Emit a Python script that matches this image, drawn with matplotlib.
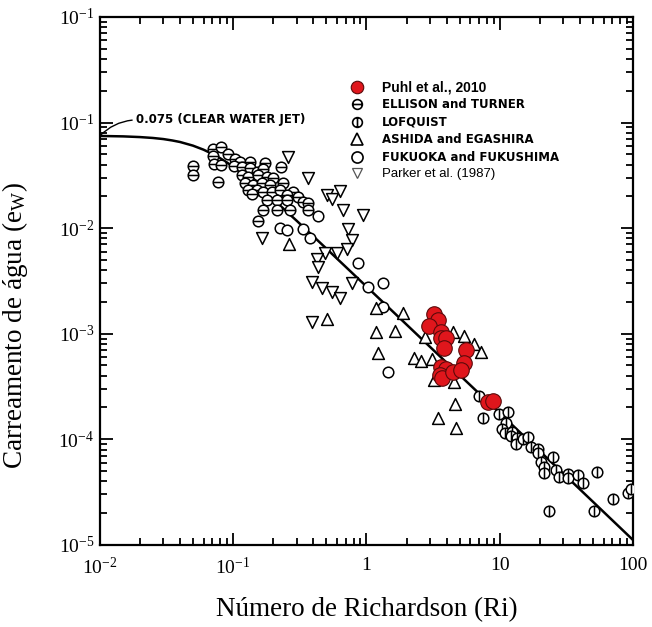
# Ri x ew chart (Parker curve with lab data sets)
import matplotlib
matplotlib.use('Agg')
import matplotlib.pyplot as plt
from matplotlib.path import Path
from matplotlib.lines import Line2D

plt.rcParams['font.family'] = ['Liberation Serif', 'DejaVu Serif']
plt.rcParams['mathtext.fontset'] = 'custom'
plt.rcParams['mathtext.rm'] = 'Liberation Serif'
plt.rcParams['mathtext.it'] = 'Liberation Serif:italic'

# curve
curve_ri = [0.01, 0.015, 0.02, 0.025, 0.03, 0.035, 0.04, 0.05, 0.06, 0.07, 0.08, 0.09, 0.1,
            0.12, 0.15, 0.2, 0.25, 0.3, 0.4, 0.5, 0.7, 1, 2, 5, 10, 20, 50, 100]
curve_ew = [0.0746, 0.0739, 0.0728, 0.0714, 0.0697, 0.0676, 0.0654, 0.0604, 0.0553, 0.0504,
            0.0459, 0.0418, 0.0382, 0.0322, 0.0256, 0.0187, 0.01449, 0.01173, 0.00835, 0.00641,
            0.00429, 0.0028, 0.00122, 4.06e-4, 1.77e-4, 7.7e-5, 2.56e-5, 1.11e-5]

ellison_ri = [0.050, 0.050, 0.071, 0.081, 0.071, 0.072, 0.081, 0.077,
              0.092, 0.104, 0.113, 0.134, 0.174, 0.230,
              0.102, 0.117, 0.134, 0.151, 0.168,
              0.117, 0.130, 0.154, 0.180, 0.200, 0.238,
              0.123, 0.141, 0.165, 0.190,
              0.130, 0.151, 0.168, 0.196, 0.226, 0.283, 0.255,
              0.139, 0.180, 0.214, 0.255, 0.308, 0.336, 0.366,
              0.168, 0.214, 0.268, 0.366, 0.154]
ellison_ew = [0.0391, 0.0319, 0.0562, 0.0592, 0.0483, 0.0405, 0.0399, 0.0274,
              0.0505, 0.0452, 0.0424, 0.0424, 0.0414, 0.0380,
              0.0388, 0.0380, 0.0372, 0.0340, 0.0364,
              0.0319, 0.0305, 0.0319, 0.0305, 0.0299, 0.0268,
              0.0268, 0.0257, 0.0268, 0.0257,
              0.0230, 0.0230, 0.0220, 0.0220, 0.0230, 0.0220, 0.0206,
              0.0211, 0.0185, 0.0185, 0.0185, 0.0197, 0.0177, 0.0173,
              0.0149, 0.0149, 0.0149, 0.0149, 0.0117]

lofquist_ri = [6.95, 7.45, 9.82, 11.5, 11.1, 10.35, 10.9, 12.3, 12.1, 13.4, 13.2, 14.9, 16.2,
               17.1, 19.3, 19.3, 20.3, 21.4, 21.4, 25.0, 26.4, 27.8, 32.5, 32.5, 38.5, 42.1,
               53.6, 23.4, 50.9, 70.8, 91.7, 97.0]
lofquist_ew = [2.58e-4, 1.60e-4, 1.74e-4, 1.82e-4, 1.43e-4, 1.25e-4, 1.15e-4, 1.18e-4, 1.08e-4,
               1.03e-4, 9.04e-5, 1.01e-4, 1.05e-4, 8.47e-5, 8.11e-5, 7.43e-5, 6.11e-5, 5.48e-5,
               4.81e-5, 6.81e-5, 5.13e-5, 4.40e-5, 4.70e-5, 4.31e-5, 4.60e-5, 3.86e-5, 4.91e-5,
               2.10e-5, 2.10e-5, 2.73e-5, 3.11e-5, 3.39e-5]

ashida_ri = [0.264, 0.509, 1.19, 1.19, 1.65, 1.23, 1.87, 2.73, 2.26, 2.55, 3.13, 4.44, 5.36,
             6.38, 7.20, 3.19, 4.51, 4.59, 3.42, 4.67]
ashida_ew = [7.08e-3, 1.38e-3, 1.76e-3, 1.04e-3, 1.06e-3, 6.58e-4, 1.57e-3, 9.33e-4, 5.9e-4,
             5.52e-4, 5.77e-4, 1.04e-3, 9.53e-4, 8.0e-4, 6.73e-4, 3.66e-4, 3.50e-4, 2.16e-4,
             1.60e-4, 1.28e-4]

fukuoka_ri = [0.226, 0.255, 0.336, 0.435, 0.379, 0.871, 1.02, 1.34, 1.34, 1.44]
fukuoka_ew = [0.0100, 0.0095, 0.0098, 0.0131, 0.0081, 4.68e-3, 2.77e-3, 3.03e-3, 1.79e-3, 4.35e-4]

parker_ri = [0.259, 0.366, 0.509, 0.555, 0.638, 0.672, 0.949, 0.165, 0.733, 0.785, 0.720,
             0.605, 0.492, 0.428, 0.435, 0.393, 0.467, 0.555, 0.638, 0.785, 0.393]
parker_ew = [0.0472, 0.0299, 0.0206, 0.0189, 0.0225, 0.0149, 0.0133, 8.07e-3, 9.8e-3, 7.73e-3,
             6.35e-3, 5.82e-3, 5.82e-3, 5.11e-3, 4.29e-3, 3.10e-3, 2.72e-3, 2.49e-3, 2.18e-3,
             3.03e-3, 1.29e-3]

puhl_ri = [3.19, 3.42, 2.93, 3.60, 3.60, 3.93, 3.79, 5.55, 5.36, 3.60, 3.93, 3.55, 3.66,
           4.44, 5.09, 8.13, 8.86]
puhl_ew = [1.54e-3, 1.35e-3, 1.19e-3, 1.04e-3, 9.12e-4, 9.12e-4, 7.34e-4, 7.03e-4, 5.29e-4,
           4.85e-4, 4.64e-4, 4.07e-4, 3.81e-4, 4.35e-4, 4.54e-4, 2.26e-4, 2.31e-4]

x_ticks = [0.01, 0.1, 1, 10, 100]
x_labels = [r'$\mathregular{10^{-2}}$', r'$\mathregular{10^{-1}}$', '1', '10', '100']
y_ticks = [1e-5, 1e-4, 1e-3, 1e-2, 1e-1, 1]
y_labels = [r'$\mathregular{10^{-5}}$', r'$\mathregular{10^{-4}}$', r'$\mathregular{10^{-3}}$',
            r'$\mathregular{10^{-2}}$', r'$\mathregular{10^{-1}}$', r'$\mathregular{10^{-1}}$']

# circle with a bar (theta / phi symbols)
seg_h = Path([[-1, 0], [1, 0]], [Path.MOVETO, Path.LINETO])
seg_v = Path([[0, -1], [0, 1]], [Path.MOVETO, Path.LINETO])
theta = Path.make_compound_path(Path.unit_circle(), seg_h)
phi = Path.make_compound_path(Path.unit_circle(), seg_v)

fig = plt.figure(figsize=(6.52, 6.27), dpi=100)
ax = fig.add_axes([0.153, 0.131, 0.818, 0.842])

ax.plot(curve_ri, curve_ew, 'k-', lw=1.8, zorder=2)

ms = 58
ax.scatter(ellison_ri, ellison_ew, s=ms, marker=theta, facecolors='white', edgecolors='k', linewidths=1.1, zorder=3)
ax.scatter(lofquist_ri, lofquist_ew, s=ms, marker=phi, facecolors='white', edgecolors='k', linewidths=1.1, zorder=3)
ax.scatter(fukuoka_ri, fukuoka_ew, s=ms, marker='o', facecolors='white', edgecolors='k', linewidths=1.1, zorder=3)
ax.scatter(ashida_ri, ashida_ew, s=72, marker='^', facecolors='white', edgecolors='k', linewidths=1.1, zorder=3)
ax.scatter(parker_ri, parker_ew, s=72, marker='v', facecolors='white', edgecolors='k', linewidths=1.1, zorder=3)
ax.scatter(puhl_ri, puhl_ew, s=125, marker='o', facecolors='#e0161c', edgecolors='#5a0a0a', linewidths=0.8, zorder=4)

ax.set_xscale('log')
ax.set_yscale('log')
ax.set_xlim(0.01, 100)
ax.set_ylim(1e-5, 1)
ax.set_xticks(x_ticks)
ax.set_xticklabels(x_labels)
ax.set_yticks(y_ticks)
ax.set_yticklabels(y_labels)
ax.tick_params(which='both', direction='in', top=True, right=True, width=1.3, labelsize=14)
ax.tick_params(which='major', length=9)
ax.tick_params(which='minor', length=5)
ax.tick_params(axis='x', pad=9)
ax.tick_params(axis='y', pad=4)
for sp in ax.spines.values():
    sp.set_linewidth(1.6)

ax.set_xlabel('Número de Richardson (Ri)', fontsize=19.5, labelpad=13)
ax.set_ylabel(r'Carreamento de água (e$_\mathregular{W}$)', fontsize=19.5)
ax.yaxis.set_label_coords(-0.131, 0.415)

ax.annotate('0.075 (CLEAR WATER JET)', xy=(0.01, 0.0746), xytext=(0.0188, 0.106),
            fontsize=8.5, fontweight='bold', family='DejaVu Sans', va='center', ha='left',
            arrowprops=dict(arrowstyle='-', lw=1.0, color='k', shrinkA=1, shrinkB=0,
                            connectionstyle='arc3,rad=0.2', relpos=(0, 0.5)))

handles = [
    Line2D([], [], ls='none', marker='o', ms=9, mfc='#e0161c', mec='#5a0a0a', mew=0.8),
    Line2D([], [], ls='none', marker=theta, ms=7, mfc='none', mec='k', mew=1.2),
    Line2D([], [], ls='none', marker=phi, ms=7, mfc='none', mec='k', mew=1.2),
    Line2D([], [], ls='none', marker='^', ms=8, mfc='none', mec='k', mew=1.2),
    Line2D([], [], ls='none', marker='o', ms=8, mfc='none', mec='k', mew=1.2),
    Line2D([], [], ls='none', marker='v', ms=7, mfc='none', mec='#555555', mew=0.9),
]
labels = ['Puhl et al., 2010', 'ELLISON and TURNER', 'LOFQUIST', 'ASHIDA and EGASHIRA',
          'FUKUOKA and FUKUSHIMA', 'Parker et al. (1987)']
leg = ax.legend(handles, labels, loc='upper left', bbox_to_anchor=(350 / 652, 1 - 80 / 627),
                bbox_transform=fig.transFigure, frameon=False, borderpad=0, borderaxespad=0,
                handlelength=1.2, handletextpad=1.5, labelspacing=0.38,
                prop={'family': 'DejaVu Sans', 'size': 8.5, 'weight': 'bold'})
txt = leg.get_texts()
txt[0].set_family('Liberation Sans')
txt[0].set_fontsize(10)
txt[5].set_family('Liberation Sans')
txt[5].set_fontweight('normal')
txt[5].set_fontsize(9.5)

fig.savefig('out.png', dpi=100)
